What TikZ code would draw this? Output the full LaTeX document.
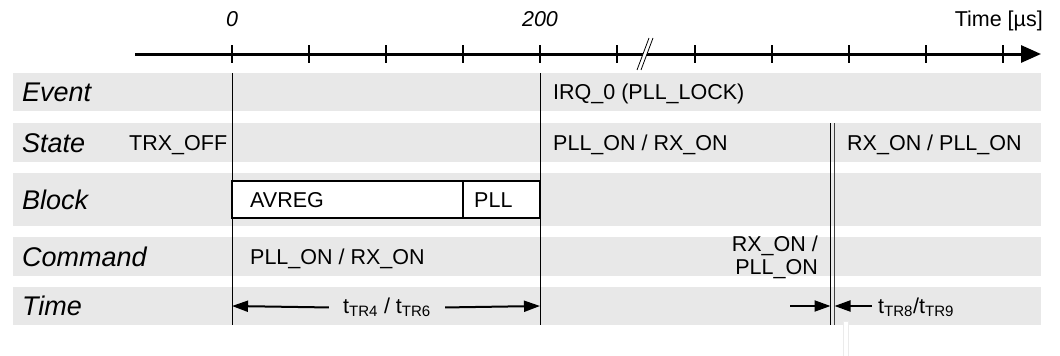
\documentclass[tikz,border=0pt]{standalone}
\usepackage{fontspec}
\setmainfont{Liberation Sans}
\usetikzlibrary{arrows.meta}
\tikzset{
  rowname/.style={anchor=base west, inner sep=0pt, font=\fontsize{27}{30}\selectfont\itshape},
  val/.style={anchor=base west, inner sep=0pt, font=\fontsize{21.5}{23}\selectfont},
  axistick/.style={line width=1.5pt},
  marker/.style={line width=1pt},
  span/.style={line width=2pt, -{Triangle[length=16pt,width=11pt]}},
}
\begin{document}
\begin{tikzpicture}[x=1pt, y=-1pt]
  \useasboundingbox (0,0) rectangle (1060,356);
  % grey rows
  \foreach \top/\bot in {73/111, 123/162, 173/226, 237/276, 287/325}
    \fill[black!9] (13,\top) rectangle (1041,\bot);
  % time axis
  \draw[line width=3pt, -{Triangle[length=20pt,width=17pt]}] (135,54) -- (1041,54);
  \foreach \x in {232,309,...,617,695,772,...,1003}
    \draw[axistick] (\x,45) -- (\x,63);
  \fill[white] (637,70) -- (649,38) -- (653,38) -- (641,70) -- cycle;
  \draw[line width=0.8pt] (637,70) -- (649,38) (641,70) -- (653,38);
  \node[val, anchor=base, font=\fontsize{21.5}{23}\selectfont\itshape] (lbl0) at (232,27) {0};
  \node[val, anchor=base, font=\fontsize{21.5}{23}\selectfont\itshape] (lbl200) at (540,27) {200};
  \node[val, anchor=base east] (unit) at (1043,27) {Time [µs]};
  % row names
  \node[rowname] (rEvent) at (22,101.5) {Event};
  \node[rowname] (rState) at (22,152) {State};
  \node[rowname] (rBlock) at (22,209) {Block};
  \node[rowname] (rCommand) at (22,266) {Command};
  \node[rowname] (rTime) at (22,315.5) {Time};
  % markers
  \coordinate (m0) at (232,73);   \coordinate (m0b) at (232,325);
  \coordinate (m200) at (540,73); \coordinate (m200b) at (540,325);
  \coordinate (sw1) at (830.5,123); \coordinate (sw1b) at (830.5,325);
  \coordinate (sw2) at (834.5,123); \coordinate (sw2b) at (834.5,325);
  \draw[marker] (m0) -- (m0b) (m200) -- (m200b);
  \draw[marker] (sw1) -- (sw1b);
  \draw[marker, black!75] (sw2) -- (sw2b);
  % event and state
  \node[val] (irq) at (553,99.5) {IRQ\_0 (PLL\_LOCK)};
  \node[val] (trxoff) at (129,150) {TRX\_OFF};
  \node[val] (pllon) at (553,150) {PLL\_ON / RX\_ON};
  \node[val] (rxon) at (847,150) {RX\_ON / PLL\_ON};
  % blocks
  \draw[line width=1.5pt, fill=white] (232,181) rectangle (540,218);
  \draw[line width=1.5pt] (463,181) -- (463,218);
  \node[val] (avreg) at (250,207) {AVREG};
  \node[val] (pll) at (474,207) {PLL};
  % commands
  \node[val] (cmd1) at (250,264) {PLL\_ON / RX\_ON};
  \node[val, anchor=east, align=right] (cmd2) at (818,257) {RX\_ON /\\PLL\_ON};
  % durations
  \node[val, anchor=base, inner xsep=14pt] (tr46) at (387,313.5) {t\textsubscript{TR4} / t\textsubscript{TR6}};
  \draw[span] (tr46.west) -- (m0 |- 0,306);
  \draw[span] (tr46.east) -- (m200 |- 0,306);
  \coordinate (tail89) at (790,306);
  \draw[span] (tail89) -- (sw1 |- tail89);
  \node[val, inner xsep=6pt] (tr89) at (872,313.5) {t\textsubscript{TR8}/t\textsubscript{TR9}};
  \draw[span] (tr89.west |- tail89) -- (sw2 |- tail89);
  \draw[black!8, fill=white] (843,321) rectangle (848,356);
\end{tikzpicture}
\end{document}
